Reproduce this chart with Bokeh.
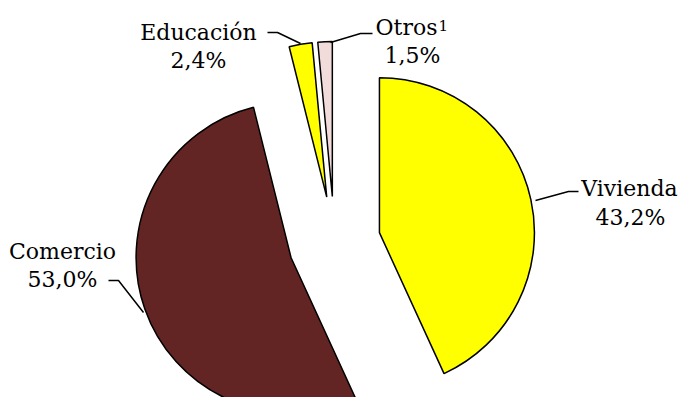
import math
from bokeh.plotting import figure
from bokeh.models import Range1d
from bokeh.core.properties import value
from bokeh.embed import file_html
from bokeh.resources import INLINE

# ---- data ----
categories = ["Vivienda", "Comercio", "Educación", "Otros"]
shares = [43.2, 53.0, 2.4, 1.5]
pct_labels = ["43,2%", "53,0%", "2,4%", "1,5%"]
colors = ["#FFFF00", "#632523", "#FFFF00", "#F2DCDB"]

# ---- layout (picture-like coordinates: x right, y = 413 - picture_y) ----
W, H = 682, 397
CX, CY = 334, 413 - 242
R = 155
EXPLODE = 46
FONT = "DejaVu Serif"
FS = "22px"

p = figure(width=W, height=H, output_backend="svg", toolbar_location=None,
           x_range=Range1d(0, W), y_range=Range1d(413 - H, 413),
           min_border=0, outline_line_color=None, background_fill_color="white",
           border_fill_color="white")
p.axis.visible = False
p.grid.visible = False

total = sum(shares)
cum = 0.0
xs, ys, starts, ends = [], [], [], []
for s in shares:
    c0 = cum / total
    cum += s
    c1 = cum / total
    a_start = math.radians(90 - 360 * c1)
    a_end = math.radians(90 - 360 * c0)
    mid = (a_start + a_end) / 2
    xs.append(CX + EXPLODE * math.cos(mid))
    ys.append(CY + EXPLODE * math.sin(mid))
    starts.append(a_start)
    ends.append(a_end)

p.wedge(x=xs, y=ys, radius=R, start_angle=starts, end_angle=ends,
        direction="anticlock", fill_color=colors, line_color="black", line_width=1.5)

def sy(v):
    return 413 - v

# leader lines
leaders = [
    ([535, 568, 578], [200, 191, 191]),          # Vivienda
    ([143, 118, 108], [312, 280, 280]),          # Comercio
    ([300, 277, 267], [43, 32, 32]),             # Educación
    ([330, 360, 372], [42, 33, 33]),             # Otros
]
for lx, ly in leaders:
    p.line(lx, [sy(v) for v in ly], line_color="black", line_width=1.5)

# labels
name_pos = [(629, 188), (62, 251), (198, 32), (375, 27)]
pct_pos = [(630, 217), (62, 279), (198, 60), (412, 55)]
aligns = ["center", "center", "center", "left"]
for i, cat in enumerate(categories):
    nx, ny = name_pos[i]
    p.text(x=[nx], y=[sy(ny)], text=[cat], text_font=value(FONT), text_font_size=FS,
           text_align=aligns[i], text_baseline="alphabetic", text_color="black")
    px_, py_ = pct_pos[i]
    p.text(x=[px_], y=[sy(py_)], text=[pct_labels[i]], text_font=value(FONT), text_font_size=FS,
           text_align="center", text_baseline="alphabetic", text_color="black")

# superscript for Otros
p.text(x=[438], y=[sy(25)], text=["1"], text_font=value(FONT), text_font_size="15px",
       text_align="left", text_baseline="alphabetic", text_color="black")

open("out.html", "w").write(file_html(p, INLINE))
